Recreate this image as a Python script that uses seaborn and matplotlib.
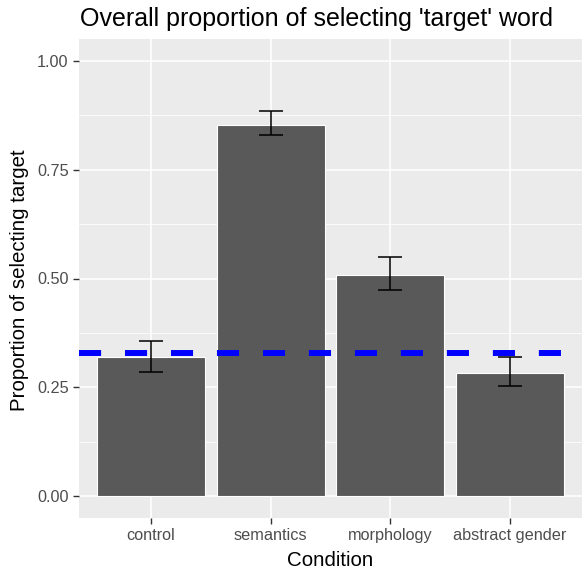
import matplotlib
matplotlib.use("Agg")
import matplotlib.pyplot as plt
import seaborn as sns
import numpy as np
import pandas as pd

conditions = ["control", "semantics", "morphology", "abstract gender"]
proportions = [0.319, 0.853, 0.509, 0.284]
err_low = [0.285, 0.830, 0.474, 0.253]
err_high = [0.357, 0.884, 0.550, 0.320]
chance_level = 0.33
y_ticks = [0.00, 0.25, 0.50, 0.75, 1.00]
y_tick_labels = ["0.00", "0.25", "0.50", "0.75", "1.00"]

title = "Overall proportion of selecting 'target' word"
x_title = "Condition"
y_title = "Proportion of selecting target"

sns.set_theme(style="darkgrid")
plt.rcParams["font.family"] = ["Liberation Sans", "DejaVu Sans"]

W, H = 585, 573
fig = plt.figure(figsize=(W / 100, H / 100), dpi=100)
ax = fig.add_axes([79 / W, 1 - 518 / H, (582 - 79) / W, (518 - 39) / H])
ax.set_facecolor("#EBEBEB")

df = pd.DataFrame({"Condition": conditions, "Proportion": proportions})
sns.barplot(data=df, x="Condition", y="Proportion", order=conditions,
            color="#595959", saturation=1, width=0.9, edgecolor="white",
            linewidth=0.8, errorbar=None, ax=ax, zorder=2)

xs = np.arange(len(conditions))
props = np.array(proportions)
yerr = np.vstack([props - np.array(err_low), np.array(err_high) - props])
ax.errorbar(xs, props, yerr=yerr, fmt="none", ecolor="black",
            elinewidth=1.1, capsize=8.5, capthick=1.1, zorder=3)

ax.axhline(chance_level, color="#0000FF", lw=4.3, dashes=(3.7, 4.0), zorder=4)

ax.set_xlim(-0.6, len(conditions) - 0.4)
ax.set_ylim(-0.05, 1.05)
ax.set_yticks(y_ticks)
ax.set_yticklabels(y_tick_labels)
ax.set_yticks([0.125, 0.375, 0.625, 0.875], minor=True)
ax.grid(which="major", color="white", lw=1.1)
ax.grid(which="minor", axis="y", color="white", lw=0.55)
ax.set_axisbelow(True)
for s in ax.spines.values():
    s.set_visible(False)

ax.tick_params(axis="both", which="major", length=4.5, width=1.0, color="#333333",
               labelcolor="#4D4D4D", labelsize=11.7, pad=3)
ax.tick_params(axis="both", which="minor", length=0)
ax.tick_params(axis="x", bottom=True)
ax.tick_params(axis="y", left=True)

ax.set_xlabel("")
ax.set_ylabel("")
fig.text(80 / W, 1 - 19 / H, title, fontsize=18, color="black",
         ha="left", va="center")
fig.text((79 + 582) / 2 / W, 1 - 560 / H, x_title, fontsize=14.8,
         color="black", ha="center", va="center")
fig.text(20 / W, 1 - 280 / H, y_title, fontsize=14.8, color="black",
         ha="center", va="center", rotation=90)

fig.savefig("out.png", dpi=100, facecolor="white")
